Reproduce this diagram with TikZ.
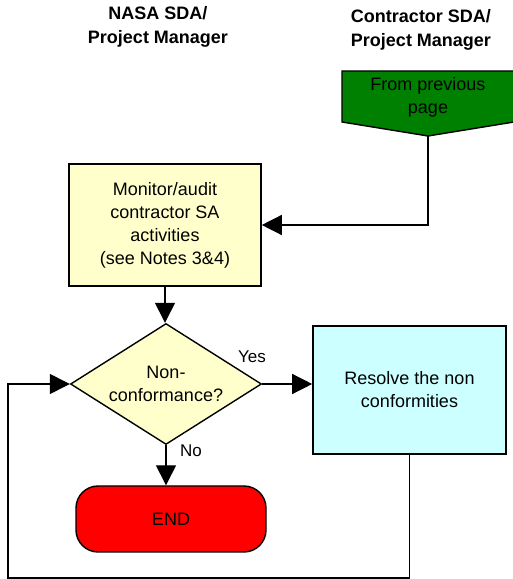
\documentclass[tikz,border=0pt]{standalone}
\usepackage{xcolor}
\usepackage{fontspec}
\setmainfont{Liberation Sans}
\usepackage{tikz}
\usetikzlibrary{positioning,shapes.geometric,arrows.meta}

\definecolor{boxyellow}{HTML}{FFFFCC}
\definecolor{boxcyan}{HTML}{CCFFFF}
\definecolor{pagegreen}{HTML}{008000}

\begin{document}
\begin{tikzpicture}[x=1pt,y=1pt,
            every node/.append style = {font=\fontsize{18}{23}\selectfont, align=center},
            heading/.style = {font=\fontsize{18}{24}\selectfont\bfseries},
            process/.style = {draw, line width=1.6pt, rectangle, inner sep=0pt},
            decision/.style = {draw, line width=1.4pt, diamond, aspect=1.58, inner sep=0pt, fill=boxyellow,
                               minimum width=191pt, minimum height=121pt},
            flow/.style = {line width=1.4pt, -{Triangle[length=20pt,width=20pt]}},
            answer/.style = {font=\fontsize{17}{20}\selectfont, fill=white, inner sep=1pt}]
        \useasboundingbox (0,0) rectangle (513,579);
        \node[heading] (hnasa) at (158,552.5) {NASA SDA/\\Project Manager};
        \node[heading] (hcontr) at (421,549) {Contractor SDA/\\Project Manager};
        % off-page connector
        \filldraw[fill=pagegreen, line width=1.4pt]
            (342,508) -- (514,508) -- (514,457) -- (428,443) -- (342,457) -- cycle;
        \coordinate (ptip) at (428,443);
        \node (nprev) at (428,482) {From previous\\page};
        \node[process, fill=boxyellow, minimum width=192pt, minimum height=122pt] (nmonitor) at (165,354)
            {Monitor/audit\\contractor SA\\activities\\(see Notes 3\&4)};
        \node[decision] (ndecide) at (166,195) {Non-\\conformance?};
        \node[process, fill=boxcyan, minimum width=193pt, minimum height=128pt] (nresolve) at (409.5,189)
            {Resolve the non\\conformities};
        \node[draw, line width=1.4pt, fill=red, rounded corners=22pt, minimum width=190pt,
              minimum height=66pt] (nend) at (171,60) {END};
        \coordinate (nloop) at (8,1);
        \draw[flow] (ptip) |- (nmonitor.east);
        \draw[flow] (nmonitor.south) -- (nmonitor.south |- ndecide.north);
        \draw[flow] (ndecide.east) -- (ndecide.east -| nresolve.west);
        \draw[flow] (ndecide.south) -- (ndecide.south |- nend.north);
        \draw[flow] (nresolve.south) |- (nloop) |- (ndecide.west);
        \node[answer] (nyes) at (252,222) {Yes};
        \node[answer] (nno) at (191,128) {No};
\end{tikzpicture}
\end{document}
